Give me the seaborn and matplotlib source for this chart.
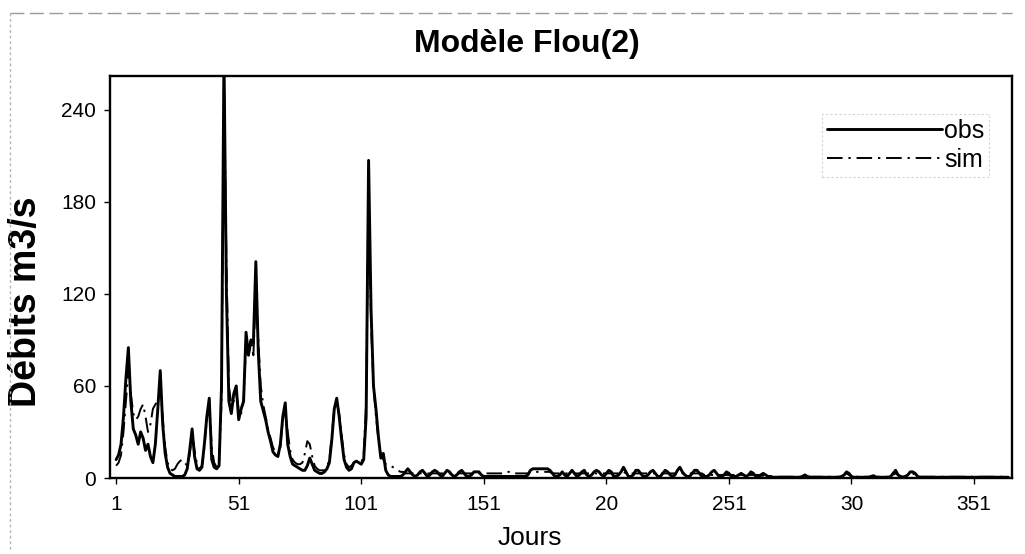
import numpy as np
import pandas as pd
import matplotlib
matplotlib.use("Agg")
import matplotlib.pyplot as plt
from matplotlib.lines import Line2D
import seaborn as sns

sns.set_theme(style="white")
plt.rcParams['font.family'] = ['Liberation Sans', 'DejaVu Sans']
plt.rcParams['text.color'] = 'black'
plt.rcParams['axes.labelcolor'] = 'black'
plt.rcParams['xtick.color'] = 'black'
plt.rcParams['ytick.color'] = 'black'

# Débits journaliers observés (m3/s), jours 1 à 365
obs = [
    12, 15, 22, 40, 65, 85, 50, 32, 28, 22,
    30, 26, 18, 22, 14, 10, 22, 45, 70, 35,
    16, 7, 3, 2, 1, 1, 1, 1, 2, 6,
    18, 32, 14, 6, 5, 7, 22, 40, 52, 12,
    7, 6, 8, 60, 275, 120, 50, 42, 55, 60,
    38, 45, 50, 95, 80, 90, 88, 141, 82, 50,
    44, 38, 30, 24, 17, 15, 14, 22, 40, 49,
    22, 14, 9, 8, 7, 6, 5, 5, 8, 13,
    9, 5, 4, 3, 3, 4, 6, 10, 25, 45,
    52, 40, 25, 12, 7, 5, 6, 10, 11, 10,
    9, 12, 40, 207, 110, 60, 45, 27, 13, 16,
    5, 2, 1, 1, 1, 1, 1, 2, 4, 6,
    4, 2, 1, 2, 4, 5, 3, 1, 2, 4,
    5, 4, 2, 1, 3, 5, 4, 2, 1, 2,
    4, 5, 3, 1, 1, 2, 4, 4, 4, 2,
    1, 1, 1, 1, 1, 1, 1, 1, 1, 1,
    1, 1, 1, 1, 1, 1, 1, 1, 2, 5,
    6, 6, 6, 6, 6, 6, 6, 5, 3, 1,
    1, 2, 4, 2, 1, 3, 5, 3, 1, 2,
    4, 5, 2, 1, 2, 4, 5, 4, 2, 1,
    3, 5, 4, 1, 1, 2, 4, 7, 4, 1,
    1, 2, 5, 5, 3, 1, 1, 2, 4, 5,
    3, 1, 1, 3, 5, 4, 2, 1, 2, 5,
    7, 4, 2, 1, 1, 3, 5, 5, 3, 1,
    1, 1, 2, 4, 5, 3, 1, 1, 2, 4,
    3, 1, 1, 1, 2, 3, 2, 1, 2, 4,
    3, 1, 1, 2, 3, 2, 1, 1, 0.5, 0.5,
    0.5, 0.5, 0.5, 0.5, 0.5, 0.5, 0.5, 0.5, 0.5, 0.5,
    1, 2, 1, 0.5, 0.5, 0.5, 0.5, 0.5, 0.5, 0.5,
    0.5, 0.5, 0.5, 0.5, 0.5, 0.5, 1, 2, 4, 3,
    1, 0.5, 0.5, 0.5, 0.5, 0.5, 0.5, 0.5, 1, 1.5,
    0.5, 0.5, 0.5, 0.5, 0.5, 0.5, 1, 3, 5, 2,
    1, 0.5, 1, 2, 4, 4, 3, 1, 0.5, 0.5,
    0.5, 0.5, 0.5, 0.5, 0.5, 0.5, 0.5, 0.5, 0.5, 0.5,
    0.5, 0.5, 0.5, 0.5, 0.5, 0.5, 0.5, 0.5, 0.5, 0.5,
    0.5, 0.5, 0.5, 0.5, 0.5, 0.5, 0.5, 0.5, 0.5, 0.5,
    0.5, 0.5, 0.5, 0.5, 0.5,
]

# Débits simulés par le modèle flou (m3/s), jours 1 à 365
sim = [
    8, 10, 15, 30, 50, 70, 55, 42, 38, 40,
    45, 48, 40, 30, 35, 45, 48, 50, 60, 40,
    20, 10, 6, 5, 6, 9, 11, 12, 10, 8,
    15, 28, 18, 9, 6, 8, 20, 38, 48, 20,
    10, 7, 8, 50, 260, 140, 60, 48, 50, 55,
    45, 42, 50, 88, 85, 90, 80, 120, 90, 60,
    48, 40, 32, 26, 20, 17, 15, 20, 38, 45,
    30, 18, 12, 10, 9, 9, 10, 16, 24, 22,
    14, 8, 6, 5, 5, 5, 7, 12, 28, 45,
    50, 42, 28, 15, 9, 7, 8, 10, 11, 10,
    10, 15, 50, 190, 100, 60, 40, 25, 15, 12,
    9, 8, 8, 7, 6, 5, 4, 4, 3, 3,
    3, 3, 3, 3, 3, 3, 3, 3, 3, 3,
    3, 3, 3, 3, 3, 3, 3, 3, 3, 3,
    3, 3, 3, 3, 3, 3, 3, 3, 3, 3,
    3, 3, 3, 3, 3, 3, 3, 3, 3, 4,
    4, 4, 3, 3, 3, 3, 3, 3, 3, 4,
    4, 4, 4, 4, 4, 4, 4, 4, 3, 3,
    3, 3, 3, 3, 3, 3, 3, 3, 3, 3,
    3, 3, 3, 3, 3, 3, 3, 3, 3, 3,
    3, 3, 3, 3, 3, 3, 3, 4, 3, 3,
    3, 3, 3, 3, 3, 3, 3, 3, 3, 3,
    3, 3, 3, 3, 3, 3, 3, 3, 3, 3,
    4, 3, 3, 3, 3, 3, 3, 3, 3, 3,
    2, 2, 2, 2, 2, 2, 2, 2, 2, 2,
    2, 2, 2, 2, 2, 2, 2, 2, 2, 2,
    2, 2, 2, 1.5, 1.5, 1.5, 1, 1, 1, 1,
    0.8, 0.8, 0.8, 0.8, 0.8, 0.8, 0.8, 0.8, 0.8, 0.8,
    0.8, 1.5, 0.8, 0.8, 0.8, 0.8, 0.8, 0.8, 0.8, 0.8,
    0.8, 0.8, 0.8, 0.8, 0.8, 0.8, 1, 2, 3, 2,
    1, 0.8, 0.8, 0.8, 0.8, 0.8, 0.8, 0.8, 0.8, 1,
    0.8, 0.8, 0.8, 0.8, 0.8, 0.8, 1, 2, 3, 2,
    1, 0.8, 1, 2, 3, 3, 2, 1, 0.8, 0.8,
    0.8, 0.8, 0.8, 0.8, 0.8, 0.8, 0.8, 0.8, 0.8, 0.8,
    0.8, 0.8, 0.8, 0.8, 0.8, 0.8, 0.8, 0.8, 0.8, 0.8,
    0.8, 0.8, 0.8, 0.8, 0.8, 0.8, 0.8, 0.8, 0.8, 0.8,
    0.8, 0.8, 0.8, 0.8, 0.8,
]

x_tick_days = [1, 51, 101, 151, 201, 251, 301, 351]
x_tick_labels = ["1", "51", "101", "151", "20", "251", "30", "351"]
y_ticks = [0, 60, 120, 180, 240]

df_obs = pd.DataFrame({"Jours": np.arange(1, len(obs) + 1), "Débit": obs})
df_sim = pd.DataFrame({"Jours": np.arange(1, len(sim) + 1), "Débit": sim})

W, H = 1025, 554
fig = plt.figure(figsize=(W / 100, H / 100), dpi=100)
fig.patch.set_facecolor("white")

left, right, top, bottom = 110, 1012, 76, 478
ax = fig.add_axes([left / W, 1 - bottom / H, (right - left) / W, (bottom - top) / H])
ax.set_facecolor("white")

sns.lineplot(data=df_obs, x="Jours", y="Débit", ax=ax, color="black",
             linewidth=2.1, label="obs")
sns.lineplot(data=df_sim, x="Jours", y="Débit", ax=ax, color="black",
             linewidth=1.4, linestyle=(0, (8, 3, 1.2, 3)), label="sim")

ax.set_xlim(-1.5, 366.5)
ax.set_ylim(0, 262)
ax.set_xticks(x_tick_days)
ax.set_xticklabels(x_tick_labels)
ax.set_yticks(y_ticks)
ax.tick_params(axis="both", direction="out", length=4, width=1,
               colors="black", labelsize=15, left=True, bottom=True)
ax.tick_params(axis="x", pad=8)
ax.tick_params(axis="y", pad=6)
for s in ax.spines.values():
    s.set_visible(True)
    s.set_color("black")
    s.set_linewidth(1.7)

ax.set_xlabel("Jours", fontsize=19, labelpad=0)
ax.xaxis.set_label_coords(0.465, -0.12)
ax.set_ylabel("Débits m3/s", fontsize=27, fontweight="bold")
ax.yaxis.set_label_coords(-0.073, 0.438)

fig.text(527 / W, 1 - 44 / H, "Modèle Flou(2)", ha="center", va="center",
         fontsize=23, fontweight="bold")

leg = ax.legend(loc="upper right", bbox_to_anchor=(0.975, 0.905),
                borderaxespad=0, frameon=True, fontsize=18,
                handlelength=4.6, handletextpad=0.1, labelspacing=0.2,
                borderpad=0.2, fancybox=False)
frame = leg.get_frame()
frame.set_edgecolor("#c8c8c8")
frame.set_linewidth(0.8)
frame.set_linestyle((0, (2, 2)))

# Cadre pointillé de la zone du graphique
fig.add_artist(Line2D([10 / W, 1012 / W], [1 - 13 / H, 1 - 13 / H],
                      color="#9a9a9a", linewidth=1, linestyle=(0, (10, 4))))
fig.add_artist(Line2D([10 / W, 10 / W], [1 - 13 / H, 1 - 550 / H],
                      color="#b5b5b5", linewidth=1, linestyle=(0, (2, 2))))

fig.savefig("out.png", dpi=100, facecolor="white")
